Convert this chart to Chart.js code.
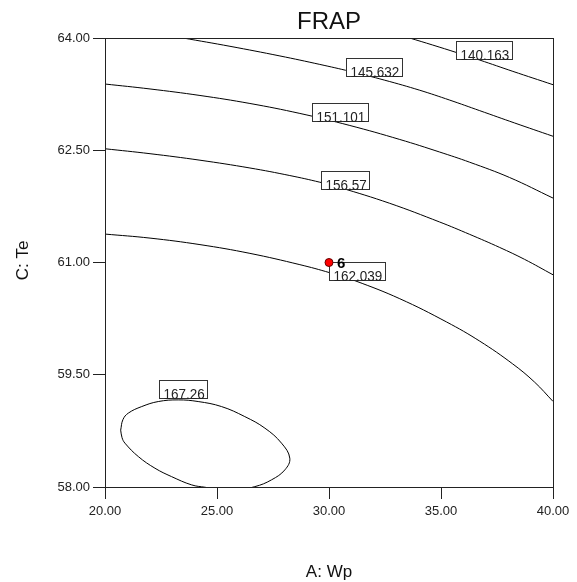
<!DOCTYPE html>
<html>
<head>
<meta charset="utf-8">
<script src="https://cdn.jsdelivr.net/npm/chart.js@4.4.0/dist/chart.umd.min.js"></script>
<style>
  html, body { margin: 0; padding: 0; background: #fff; }
</style>
</head>
<body>
<canvas id="frapChart" width="577" height="582"></canvas>
<script>
// FRAP contour plot, A: Wp vs C: Te
const xTicks = [20, 25, 30, 35, 40];
const yTicks = [58, 59.5, 61, 62.5, 64];

// contour levels
const levels = ["140.163", "145.632", "151.101", "156.57", "162.039", "167.26"];

// points
const c140x = [33.60, 34.63, 35.69, 36.73, 38.21, 40.00];
const c140y = [64.00, 63.906, 63.806, 63.705, 63.554, 63.376];

const c145x = [23.49, 25.58, 27.81, 29.59, 30.93, 32.49, 34.05, 35.39, 36.73, 38.29, 40.00];
const c145y = [64.00, 63.889, 63.76, 63.647, 63.555, 63.436, 63.302, 63.17, 63.029, 62.864, 62.687];

const c151x = [20.00, 22.01, 24.24, 26.47, 28.70, 30.93, 33.16, 34.94, 36.28, 38.06, 40.00];
const c151y = [63.385, 63.319, 63.232, 63.125, 62.992, 62.831, 62.644, 62.476, 62.34, 62.136, 61.861];

const c156x = [20.00, 22.01, 24.24, 26.47, 28.25, 29.59, 30.48, 32.71, 34.94, 36.28, 37.62, 38.73, 40.00];
const c156y = [62.52, 62.454, 62.367, 62.263, 62.162, 62.073, 62.002, 61.791, 61.541, 61.376, 61.201, 61.042, 60.836];

const c162x = [20.00, 22.01, 24.24, 26.47, 28.70, 30.04, 31.20, 33.16, 35.25, 36.73, 38.20, 39.18, 40.00];
const c162y = [61.38, 61.326, 61.239, 61.122, 60.971, 60.863, 60.752, 60.516, 60.205, 59.949, 59.645, 59.401, 59.144];

// closed loop around the optimum
const c167x = [20.70, 20.80, 21.04, 21.64, 22.38, 23.27, 24.16, 25.20, 26.24, 27.14, 27.88, 28.25, 28.03, 27.43, 26.69, 25.60, 24.46, 23.87, 22.97, 22.23, 21.49, 20.89, 20.76, 20.70];
const c167y = [58.76, 58.90, 58.987, 59.075, 59.142, 59.164, 59.142, 59.075, 58.941, 58.786, 58.586, 58.385, 58.229, 58.095, 58.005, 57.95, 57.997, 58.028, 58.139, 58.251, 58.406, 58.586, 58.66, 58.76];

// where each level label box sits (left / bottom, data units)
const labelX = [35.68, 30.78, 29.23, 29.66, 29.99, 22.41];
const labelY = [63.72, 63.49, 62.885, 61.985, 60.77, 59.195];

// design point
const designX = [30];
const designY = [61];
const designLabel = ["6"];

const toPts = (xs, ys) => xs.map((x, i) => ({ x: x, y: ys[i] }));

const contours = [
  [c140x, c140y], [c145x, c145y], [c151x, c151y],
  [c156x, c156y], [c162x, c162y], [c167x, c167y]
];

const lineSets = contours.map((c, i) => ({
  label: levels[i],
  data: toPts(c[0], c[1]),
  borderColor: "#000",
  borderWidth: 1,
  pointRadius: 0,
  fill: false,
  tension: 0.4,
  clip: 0,
  order: 1
}));

const pointSet = {
  label: "Design points",
  data: toPts(designX, designY),
  showLine: false,
  pointRadius: 4,
  pointBackgroundColor: "#ff0000",
  pointBorderColor: "#600",
  pointBorderWidth: 1,
  order: 0
};

const FONT = "'Liberation Sans', Arial, sans-serif";

const contourPlugin = {
  id: "contourDecor",
  beforeDatasetDraw(chart, args) {
    if (args.index !== 0) return;
    const ctx = chart.ctx;
    const xs = chart.scales.x, ys = chart.scales.y;
    ctx.save();
    ctx.font = "13.5px " + FONT;
    ctx.textBaseline = "alphabetic";
    ctx.textAlign = "left";
    levels.forEach((txt, i) => {
      const px = Math.round(xs.getPixelForValue(labelX[i])) + 0.5;
      const py = Math.round(ys.getPixelForValue(labelY[i])) + 0.5;
      const w = Math.round(ctx.measureText(txt).width) + 7;
      const h = 18;
      ctx.fillStyle = "#fff";
      ctx.fillRect(px, py - h, w, h);
      ctx.strokeStyle = "#333";
      ctx.lineWidth = 1;
      ctx.strokeRect(px, py - h, w, h);
      // label text is a bit taller than wide in the original
      ctx.save();
      ctx.translate(px + 4, py);
      ctx.scale(1, 1.15);
      ctx.fillStyle = "#222";
      ctx.fillText(txt, 0, 0);
      ctx.restore();
    });
    ctx.restore();
  },
  afterDraw(chart) {
    const ctx = chart.ctx;
    const a = chart.chartArea;
    const xs = chart.scales.x, ys = chart.scales.y;
    ctx.save();
    // frame
    ctx.strokeStyle = "#222";
    ctx.lineWidth = 1;
    ctx.strokeRect(Math.round(a.left) + 0.5, Math.round(a.top) + 0.5,
      Math.round(a.right - a.left), Math.round(a.bottom - a.top));
    // design point id
    ctx.fillStyle = "#000";
    ctx.font = "bold 15px " + FONT;
    ctx.textBaseline = "middle";
    ctx.textAlign = "left";
    designLabel.forEach((t, i) => {
      ctx.fillText(t, xs.getPixelForValue(designX[i]) + 8, ys.getPixelForValue(designY[i]) + 1);
    });
    // titles
    const cx = (a.left + a.right) / 2;
    ctx.fillStyle = "#111";
    ctx.textAlign = "center";
    ctx.font = "24px " + FONT;
    ctx.fillText("FRAP", cx, 22);
    ctx.font = "17px " + FONT;
    ctx.fillText("A: Wp", cx, 572);
    ctx.translate(23, (a.top + a.bottom) / 2 - 2);
    ctx.rotate(-Math.PI / 2);
    ctx.fillText("C: Te", 0, 0);
    ctx.restore();
  }
};

new Chart(document.getElementById("frapChart"), {
  type: "line",
  data: { datasets: [pointSet].concat(lineSets) },
  options: {
    responsive: false,
    animation: false,
    devicePixelRatio: 1,
    layout: { padding: { top: 38, right: 24, left: 0, bottom: 0 } },
    plugins: {
      legend: { display: false },
      tooltip: { enabled: false },
      title: { display: false }
    },
    scales: {
      x: {
        type: "linear",
        min: 20,
        max: 40,
        afterBuildTicks: s => { s.ticks = xTicks.map(v => ({ value: v })); },
        afterFit: s => { s.height = 95; },
        ticks: {
          padding: 5,
          color: "#222",
          font: { family: FONT, size: 13 },
          callback: v => v.toFixed(2)
        },
        grid: { drawOnChartArea: false, drawTicks: true, tickLength: 12, color: "#222" },
        border: { color: "#222" }
      },
      y: {
        type: "linear",
        min: 58,
        max: 64,
        afterBuildTicks: s => { s.ticks = yTicks.map(v => ({ value: v })); },
        afterFit: s => { s.width = 105; },
        ticks: {
          padding: 3,
          color: "#222",
          font: { family: FONT, size: 13 },
          callback: v => v.toFixed(2)
        },
        grid: { drawOnChartArea: false, drawTicks: true, tickLength: 12, color: "#222" },
        border: { color: "#222" }
      }
    }
  },
  plugins: [contourPlugin]
});
</script>
</body>
</html>
